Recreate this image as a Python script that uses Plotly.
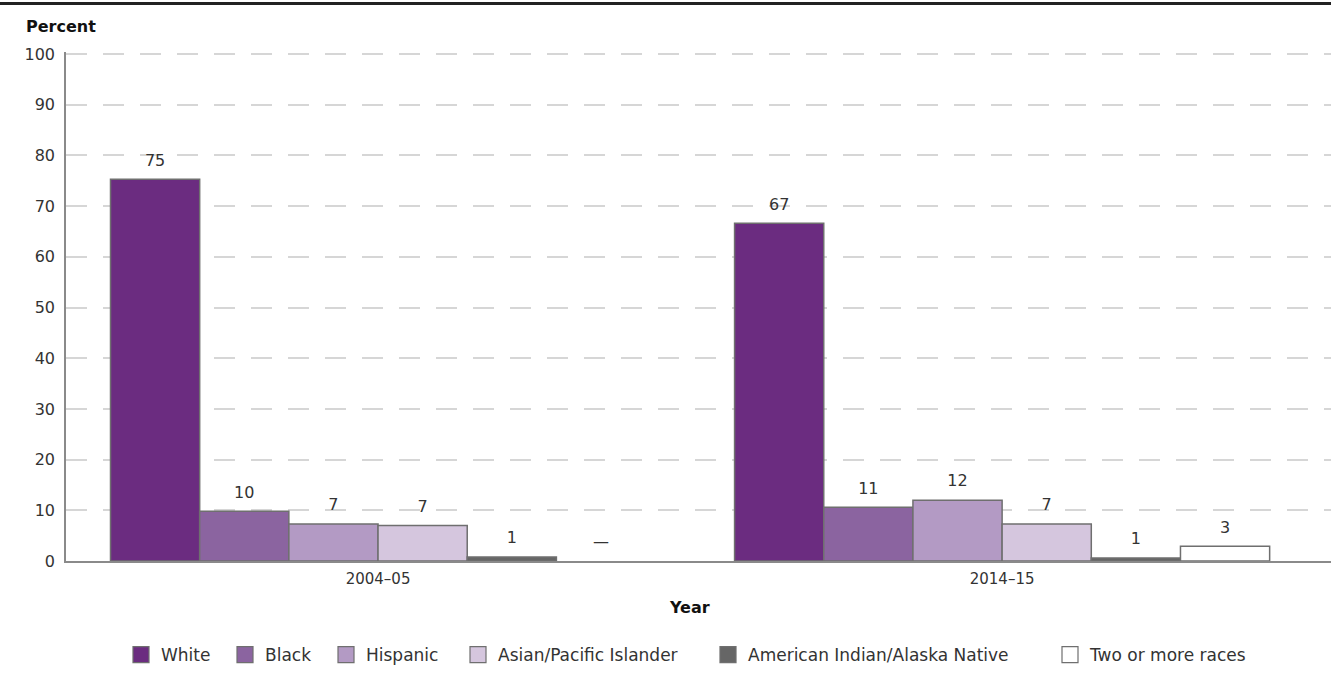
import plotly.graph_objects as go

# ---- data ----
years = ["2004–05", "2014–15"]
races = ["White", "Black", "Hispanic", "Asian/Pacific Islander",
         "American Indian/Alaska Native", "Two or more races"]
white = [75.3, 66.6]
black = [9.8, 10.6]
hispanic = [7.3, 12.0]
asian_pi = [7.0, 7.3]
am_indian = [0.8, 0.6]
two_more = [None, 2.9]   # not available in 2004–05
y_ticks = list(range(0, 101, 10))

series = [white, black, hispanic, asian_pi, am_indian, two_more]
colors = ["#6b2c80", "#8b64a0", "#b39ac4", "#d5c6de", "#666666", "#ffffff"]

# legend swatch centres (px) as laid out in the reference
legend_centres_px = [141, 245, 346, 478, 728, 1070]

FONT = "DejaVu Sans"
TXT = "#333333"

W, H = 1331, 679
L, R, T, B = 66, 0, 52, 118
plot_w = W - L - R
plot_h = H - T - B
bottom_px = H - B


def px_x(px):
    return (px - L) / plot_w


def px_y(py):
    return (bottom_px - py) / plot_h


fig = go.Figure()
legend_layouts = {}
for i, (name, vals, col) in enumerate(zip(races, series, colors)):
    fig.add_trace(go.Bar(
        x=years, y=vals, name=name, marker=dict(color=col, line=dict(color="#6f6f6f", width=1.5)),
        offsetgroup=str(i), showlegend=False, hoverinfo="skip"))
    # value labels above bars
    fig.add_trace(go.Scatter(
        x=years, y=[v if v is not None else 0 for v in vals],
        text=[f"{v:.0f}" if v is not None else "—" for v in vals],
        mode="markers+text", textposition="top center",
        marker=dict(size=14, opacity=0),
        textfont=dict(family=FONT, size=16, color=TXT),
        offsetgroup=str(i), showlegend=False, hoverinfo="skip"))
    # legend entry (one legend box per item to match spacing)
    lid = "legend" if i == 0 else f"legend{i + 1}"
    fig.add_trace(go.Scatter(
        x=[None], y=[None], mode="markers", name=name, legend=lid,
        marker=dict(symbol="square", size=16, color=col, line=dict(color="#6f6f6f", width=1.2)),
        offsetgroup=str(i), showlegend=True))
    legend_layouts[lid] = dict(
        orientation="h", x=px_x(legend_centres_px[i] - 20), xanchor="left",
        y=px_y(655), yanchor="middle", font=dict(family=FONT, size=17, color=TXT),
        bgcolor="rgba(0,0,0,0)")

fig.update_layout(
    width=W, height=H,
    margin=dict(l=L, r=R, t=T, b=B),
    paper_bgcolor="white", plot_bgcolor="white",
    barmode="group", bargap=0.1426, bargroupgap=0,
    scattermode="group",
    font=dict(family=FONT, size=15, color=TXT),
    showlegend=True,
    xaxis=dict(range=[-0.5, 1.527], showline=True, linecolor="#8a8a8a", linewidth=2,
               showgrid=False, ticks="", ticklabelstandoff=3,
               tickfont=dict(family=FONT, size=15, color=TXT), fixedrange=True),
    yaxis=dict(range=[0, 100.4], tickvals=y_ticks, showline=True, linecolor="#8a8a8a", linewidth=1.5,
               showgrid=True, gridcolor="#d6d6d6", gridwidth=1.5, griddash="21px,16px",
               zeroline=False, ticks="", ticklabelstandoff=6,
               tickfont=dict(family=FONT, size=16, color=TXT), fixedrange=True),
    **legend_layouts,
)

fig.add_annotation(text="<b>Percent</b>", xref="paper", yref="paper",
                   x=px_x(24), y=px_y(27), xanchor="left", yanchor="middle",
                   showarrow=False, font=dict(family=FONT, size=16, color="#111111"))
fig.add_annotation(text="<b>Year</b>", xref="paper", yref="paper",
                   x=px_x(689), y=px_y(607), xanchor="center", yanchor="middle",
                   showarrow=False, font=dict(family=FONT, size=16, color="#111111"))
fig.add_shape(type="line", xref="paper", yref="paper",
              x0=px_x(0), x1=1, y0=px_y(3.5), y1=px_y(3.5),
              line=dict(color="#222222", width=3))

fig.write_html("out.html")
